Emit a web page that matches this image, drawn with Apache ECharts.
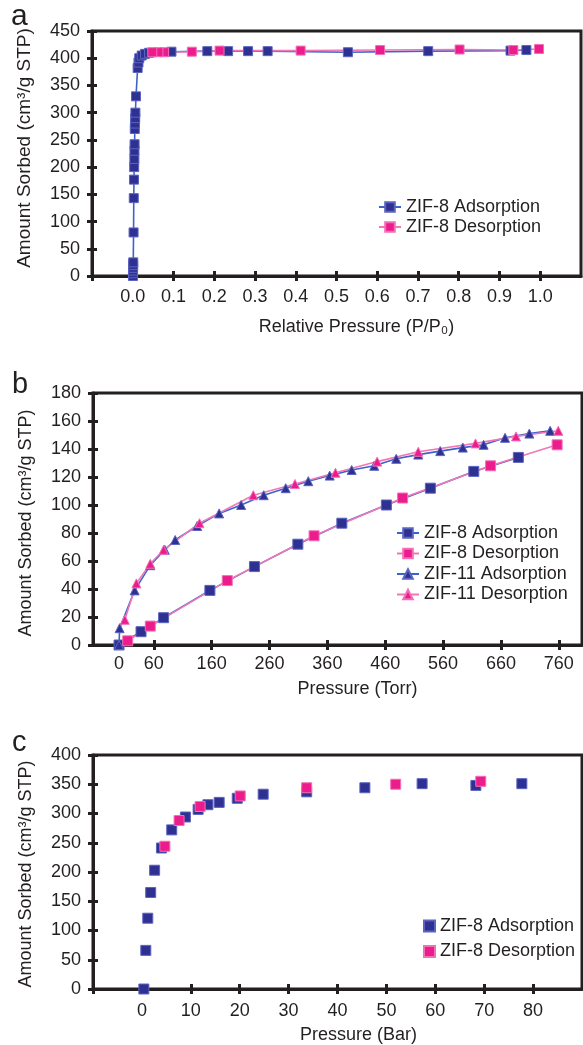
<!DOCTYPE html>
<html><head><meta charset="utf-8">
<script src="https://cdn.jsdelivr.net/npm/echarts@6/dist/echarts.min.js"></script>
<style>html,body{margin:0;padding:0;background:#fff}#c{width:583px;height:1045px}</style>
</head><body><div id="c"></div>
<script>
// ---------- Panel a : ZIF-8, N2 at 77 K (relative pressure) ----------
const aAdsX = [0.0005,0.0006,0.0007,0.0008,0.001,0.0012,0.002,0.0025,0.003,0.0035,0.004,0.0042,0.0045,0.005,0.0055,0.006,0.0065,0.008,0.012,0.014,0.016,0.022,0.03,0.04,0.095,0.183,0.234,0.283,0.331,0.528,0.725,0.927,0.966];
const aAdsY = [0,5,10,15,20,25,80,143,177,200,215,230,242,270,280,290,300,330,382,392,400,405,408,410,412,413,413,413,413,411,413,414,415];
const aDesX = [0.997,0.934,0.802,0.607,0.412,0.213,0.145,0.077,0.063,0.048];
const aDesY = [417,415,416,415,414,414,412,411,411,411];
const aXTicks = [-0.1,0,0.1,0.2,0.3,0.4,0.5,0.6,0.7,0.8,0.9,1.0];
const aXLabels = [0,0.1,0.2,0.3,0.4,0.5,0.6,0.7,0.8,0.9,1.0];

// ---------- Panel b : H2 at 77 K (Torr) ----------
const bZ8AdsX = [0,38,77,157,234,309,385,462,538,613,690];
const bZ8AdsY = [0,9.5,19.5,39,56,72,87,100,112,124,134];
const bZ8DesX = [757,642,490,337,187,54,15];
const bZ8DesY = [143,128,105,78,46,13.5,3];
const bZ11AdsX = [0,1,27,54,79,97,135,173,211,250,288,327,364,402,441,479,517,555,594,630,667,709,745];
const bZ11AdsY = [0,12,39,57,68,75,85,94,100,107,112,117,121,125,128,133,136,138.5,141,143,148,151,153];
const bZ11DesX = [759,686,616,517,446,374,304,232,139,77,54,30,10];
const bZ11DesY = [153,149,144,138,131,123,115,107,87,68,58,44,18];
const bXTicks = [0,60,160,260,360,460,560,660,760];

// ---------- Panel c : high pressure H2 (Bar) ----------
const cAdsX = [0.4,0.8,1.2,1.8,2.6,4.0,6.1,8.9,11.5,13.5,15.8,19.5,24.8,33.7,45.6,57.3,68.3,77.7];
const cAdsY = [0,66,121,165,203,241,272,294,307,315,319,326,333,337,344,351,348,351];
const cDesX = [4.7,7.6,11.9,20.1,33.7,51.9,69.3];
const cDesY = [244,288,312,330,344,350,355];
const cXTicks = [-10,0,10,20,30,40,50,60,70,80];
const cXLabels = [0,10,20,30,40,50,60,70,80];

const FONT = '"Liberation Sans", Arial, Helvetica, sans-serif';
const INK = '#231f20';
const BLUE = '#2e3192', BLUE_EDGE = '#5b64c0', BLUE_LINE = '#3c63cc';
const PINK = '#ec1c8c', PINK_EDGE = '#f36fb6', PINK_LINE = '#f277b8';
const zip = (xs, ys) => xs.map((x, i) => [x, ys[i]]);
const YNAME = 'Amount Sorbed (cm³/g STP)';

function xPair(gi, min, max, ticks, labels, fmt, name, margin, gap, pad) {
  return [{
    gridIndex: gi, type: 'value', min, max, position: 'bottom',
    axisLine: {show: true, onZero: false, lineStyle: {color: INK, width: 3}},
    axisTick: {show: true, inside: false, length: 5, lineStyle: {color: INK, width: 3}, customValues: ticks},
    axisLabel: {show: true, customValues: labels, formatter: fmt, margin, color: INK, fontSize: 18, fontFamily: FONT},
    splitLine: {show: false},
    name, nameLocation: 'middle', nameGap: gap,
    nameTextStyle: {color: INK, fontSize: 18, fontFamily: FONT, padding: [0, 0, 0, pad]}
  }, {
    gridIndex: gi, type: 'value', min, max, position: 'bottom',
    axisLine: {show: false, onZero: false},
    axisTick: {show: true, inside: true, length: 5, lineStyle: {color: INK, width: 3}, customValues: ticks},
    axisLabel: {show: false}, splitLine: {show: false}
  }];
}
function yPair(gi, max, interval, nameSize, pad) {
  return [{
    gridIndex: gi, type: 'value', min: 0, max, interval, position: 'left',
    axisLine: {show: true, onZero: false, lineStyle: {color: INK, width: 3}},
    axisTick: {show: true, inside: false, length: 5, lineStyle: {color: INK, width: 3}},
    axisLabel: {show: true, margin: 12, color: INK, fontSize: 18, fontFamily: FONT},
    splitLine: {show: false},
    name: YNAME, nameLocation: 'middle', nameGap: 58,
    nameTextStyle: {color: INK, fontSize: nameSize, fontFamily: FONT, padding: pad}
  }, {
    gridIndex: gi, type: 'value', min: 0, max, interval, position: 'left',
    axisLine: {show: false, onZero: false},
    axisTick: {show: true, inside: true, length: 5, lineStyle: {color: INK, width: 3}},
    axisLabel: {show: false}, splitLine: {show: false}
  }];
}
function lineS(name, xi, data, color, edge, lineColor, symbol, size) {
  return {
    name, type: 'line', xAxisIndex: xi, yAxisIndex: xi, data,
    symbol, symbolSize: size, showSymbol: true, showAllSymbol: true,
    itemStyle: {color, borderColor: edge, borderWidth: 1},
    lineStyle: {color: lineColor, width: 1.6},
    emphasis: {disabled: true}, animation: false
  };
}
function scatS(name, xi, data, color, edge) {
  return {
    name, type: 'scatter', xAxisIndex: xi, yAxisIndex: xi, data,
    symbol: 'rect', symbolSize: 10,
    itemStyle: {color, borderColor: edge, borderWidth: 1, opacity: 1},
    emphasis: {disabled: true}, animation: false
  };
}
const legFmt = n => n.split('|')[1];
const legText = {color: INK, fontSize: 18, fontFamily: FONT};

const option = {
  backgroundColor: '#ffffff',
  animation: false,
  grid: [
    {left: 92, top: 31, width: 489, height: 245, show: true, borderColor: INK, borderWidth: 3, backgroundColor: 'transparent'},
    {left: 93, top: 393, width: 489, height: 252, show: true, borderColor: INK, borderWidth: 3, backgroundColor: 'transparent'},
    {left: 93, top: 755, width: 489, height: 237, show: true, borderColor: INK, borderWidth: 3, backgroundColor: 'transparent'}
  ],
  xAxis: [
    ...xPair(0, -0.1, 1.1, aXTicks, aXLabels, v => Number(v).toFixed(1), 'Relative Pressure (P/P₀)', 12, 42, 40),
    ...xPair(1, -45, 800, bXTicks, bXTicks, v => String(v), 'Pressure (Torr)', 10, 35, 40),
    ...xPair(2, -10, 90, cXTicks, cXLabels, v => String(v), 'Pressure (Bar)', 13, 37, 42)
  ],
  yAxis: [
    ...yPair(0, 450, 50, 19, [0, 0, 0, 11]),
    ...yPair(1, 180, 20, 18, [0, 8, 0, 0]),
    ...yPair(2, 400, 50, 18, [0, 4, 0, 0])
  ],
  legend: [
    {left: 378, top: 198, padding: 0, orient: 'vertical', itemGap: 2, itemWidth: 22, itemHeight: 12, selectedMode: false,
     data: ['a|ZIF-8 Adsorption', 'a|ZIF-8 Desorption'], formatter: legFmt, textStyle: legText},
    {left: 396, top: 524, padding: 0, orient: 'vertical', itemGap: 2.5, itemWidth: 22, itemHeight: 12, selectedMode: false,
     data: ['b|ZIF-8 Adsorption', 'b|ZIF-8 Desorption', 'b|ZIF-11 Adsorption', 'b|ZIF-11 Desorption'], formatter: legFmt, textStyle: legText},
    {left: 423, top: 917, padding: 0, orient: 'vertical', itemGap: 7.5, itemWidth: 11, itemHeight: 11, selectedMode: false,
     data: ['c|ZIF-8 Adsorption', 'c|ZIF-8 Desorption'], formatter: legFmt, textStyle: legText}
  ],
  series: [
    lineS('a|ZIF-8 Adsorption', 0, zip(aAdsX, aAdsY), BLUE, BLUE_EDGE, BLUE_LINE, 'rect', 9),
    lineS('a|ZIF-8 Desorption', 0, zip(aDesX, aDesY), PINK, PINK_EDGE, PINK_LINE, 'rect', 9),
    lineS('b|ZIF-8 Adsorption', 2, zip(bZ8AdsX, bZ8AdsY), BLUE, BLUE_EDGE, BLUE_LINE, 'rect', 10),
    lineS('b|ZIF-8 Desorption', 2, zip(bZ8DesX, bZ8DesY), PINK, PINK_EDGE, PINK_LINE, 'rect', 10),
    lineS('b|ZIF-11 Adsorption', 2, zip(bZ11AdsX, bZ11AdsY), BLUE, BLUE_EDGE, BLUE_LINE, 'triangle', 9),
    lineS('b|ZIF-11 Desorption', 2, zip(bZ11DesX, bZ11DesY), PINK, PINK_EDGE, PINK_LINE, 'triangle', 9),
    scatS('c|ZIF-8 Adsorption', 4, zip(cAdsX, cAdsY), BLUE, BLUE_EDGE),
    scatS('c|ZIF-8 Desorption', 4, zip(cDesX, cDesY), PINK, PINK_EDGE)
  ],
  graphic: [
    {type: 'text', left: 11, top: 2, style: {text: 'a', font: '30px ' + FONT, fill: INK}},
    {type: 'text', left: 12, top: 370, style: {text: 'b', font: '29px ' + FONT, fill: INK}},
    {type: 'text', left: 12, top: 728, style: {text: 'c', font: '29px ' + FONT, fill: INK}}
  ]
};
const chart = echarts.init(document.getElementById('c'), null, {renderer: 'canvas'});
chart.setOption(option);
</script>
</body></html>
